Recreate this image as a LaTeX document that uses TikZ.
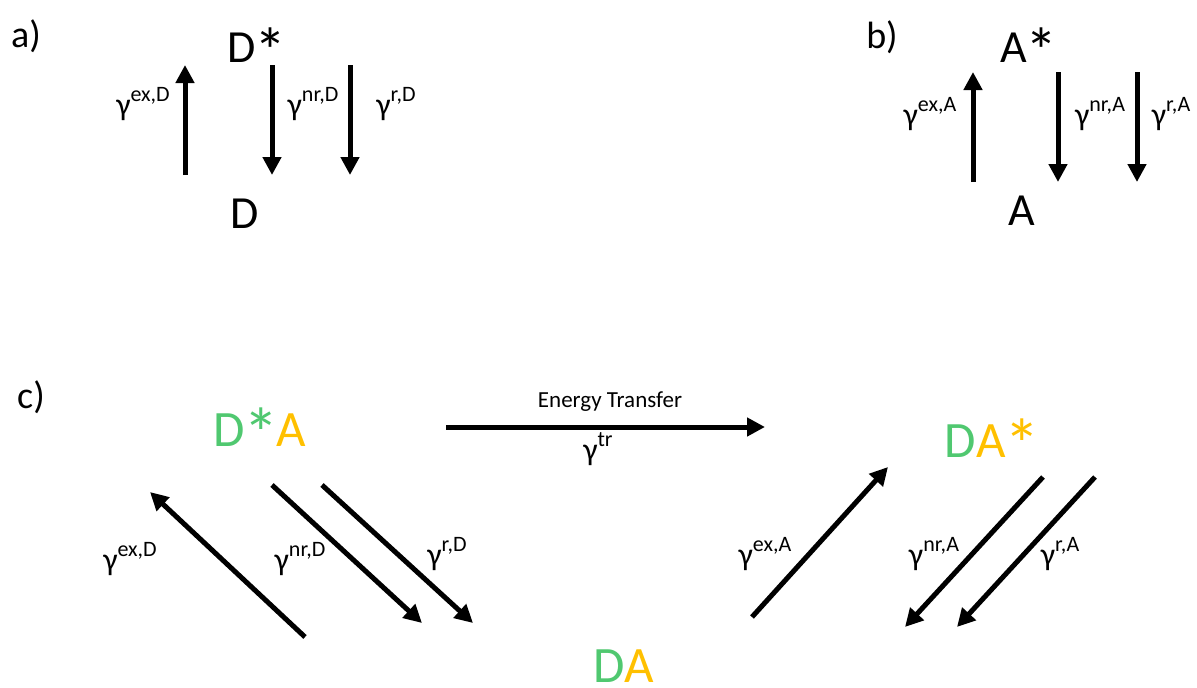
\documentclass[tikz,border=0pt]{standalone}
\usepackage{fontspec}
\usepackage{graphicx}
\setmainfont{Carlito}
\usetikzlibrary{arrows.meta}
\definecolor{donorgreen}{RGB}{80,200,112}
\definecolor{acceptorgold}{RGB}{255,192,0}
\newcommand\gam[1]{γ\raisebox{0.42em}{\fontsize{22}{22}\selectfont #1}}
\newcommand\exstar{\kern-0.03em\raisebox{-0.24em}{\scalebox{1.4}{*}}\kern-0.05em}

\begin{document}
\begin{tikzpicture}[x=1pt,y=-1pt,
  every node/.style={inner sep=0pt},
  state/.style={font=\fontsize{46}{50}\selectfont,anchor=base},
  bigstate/.style={font=\fontsize{51}{55}\selectfont,anchor=base},
  ratelabel/.style={font=\fontsize{32}{36}\selectfont,anchor=base},
  panel/.style={font=\fontsize{38}{42}\selectfont,anchor=base},
  rate/.style={line width=5pt,-{Triangle[width=18pt,length=18pt]}}]
  \useasboundingbox (0,0) rectangle (1197,688);
  % panel a)
  \node[panel] (pa) at (26,47) {a)};
  \node[state] (Dstar) at (256,62) {D\exstar};
  \node[state] (D) at (245,228) {D};
  \node[ratelabel] (aexD) at (143,115) {\gam{ex,D}};
  \node[ratelabel] (anrD) at (313,115) {\gam{nr,D}};
  \node[ratelabel] (arD) at (396,115) {\gam{r,D}};
  % panel b)
  \node[panel] (pb) at (882,48) {b)};
  \node[state] (Astar) at (1028,62) {A\exstar};
  \node[state] (A) at (1022,225) {A};
  \node[ratelabel] (bexA) at (930,125) {\gam{ex,A}};
  \node[ratelabel] (bnrA) at (1100,125) {\gam{nr,A}};
  \node[ratelabel] (brA) at (1171,125) {\gam{r,A}};
  % panel c)
  \node[panel] (pc) at (31,408) {c)};
  \node[bigstate] (DsA) at (260,446)
    {\textcolor{donorgreen}{D\exstar}\textcolor{acceptorgold}{A}};
  \node[bigstate] (DAs) at (991,457)
    {\textcolor{donorgreen}{D}\textcolor{acceptorgold}{A\exstar}};
  \node[bigstate] (DA) at (624,682)
    {\textcolor{donorgreen}{D}\textcolor{acceptorgold}{A}};
  \node[font=\fontsize{23}{26}\selectfont,anchor=base] (etlabel) at (610,407) {Energy Transfer};
  \node[ratelabel] (trlabel) at (598,460) {\gam{tr}};
  \node[ratelabel] (cexD) at (130,570) {\gam{ex,D}};
  \node[ratelabel] (cnrD) at (300,570) {\gam{nr,D}};
  \node[ratelabel] (crD) at (447,565) {\gam{r,D}};
  \node[ratelabel] (cexA) at (765,565) {\gam{ex,A}};
  \node[ratelabel] (cnrA) at (934,565) {\gam{nr,A}};
  \node[ratelabel] (crA) at (1060,565) {\gam{r,A}};
  % rate arrows
  \foreach \nm/\ax/\ay/\bx/\by in {aex/185/175/185/65, anr/272/65/272/175,
      ar/350/65/350/175, bex/973/182/973/72, bnr/1058/72/1058/182,
      br/1137/72/1137/182, cexd/305/637/150/492, cnrd/272/485/422/623,
      crd/322/485/473/623, cexa/752/617/888/467, cnra/1043/477/905/627,
      cra/1095/477/957/627, tr/446/427/765/427} {
    \coordinate (\nm0) at (\ax,\ay);
    \coordinate (\nm1) at (\bx,\by);
    \draw[rate] (\nm0) -- (\nm1);
  }
\end{tikzpicture}
\end{document}
